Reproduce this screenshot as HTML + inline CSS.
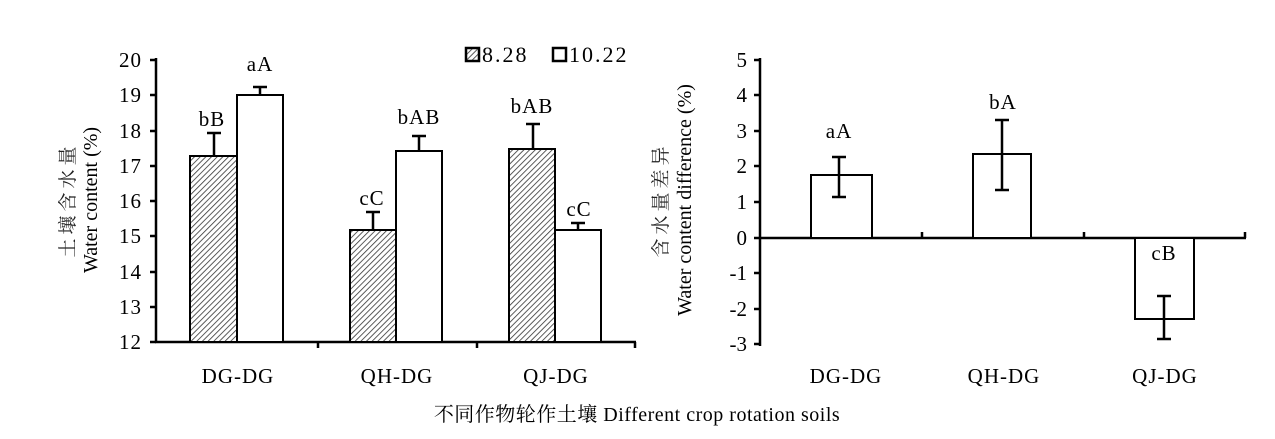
<!DOCTYPE html>
<html><head><meta charset="utf-8"><style>body{margin:0;background:#fff}</style></head><body>
<svg width="1275" height="434" viewBox="0 0 1275 434" xmlns="http://www.w3.org/2000/svg" font-family="'Liberation Serif','Noto Serif CJK SC',serif" fill="#000">
<defs><pattern id="h" width="4" height="4" patternUnits="userSpaceOnUse" patternTransform="rotate(45)"><rect width="4" height="4" fill="#fff"/><line x1="0" y1="0" x2="0" y2="4" stroke="#333" stroke-width="1.6"/></pattern></defs>
<g stroke="#000" stroke-width="2.5" fill="none">
<line x1="156" y1="58" x2="156" y2="343"/><line x1="155" y1="342" x2="636" y2="342"/>
<path d="M150 60h6M150 95h6M150 131h6M150 166h6M150 201h6M150 236h6M150 272h6M150 307h6M150 342h6"/>
<path d="M318 342v6M477 342v6M635 342v6"/>
</g>
<g stroke="#000" stroke-width="2">
<rect x="190" y="156" width="47" height="186" fill="url(#h)"/>
<rect x="237" y="95" width="46" height="247" fill="#fff"/>
<rect x="350" y="230" width="46" height="112" fill="url(#h)"/>
<rect x="396" y="151" width="46" height="191" fill="#fff"/>
<rect x="509" y="149" width="46" height="193" fill="url(#h)"/>
<rect x="555" y="230" width="46" height="112" fill="#fff"/>
<path d="M214 156V133M207 133h14M260 95V87M253 87h14M373 230V212M366 212h14M419 151V136M412 136h14M533 149V124M526 124h14M578 230V223M571 223h14" stroke-width="2.5"/>
</g>
<g font-size="21" text-anchor="end" letter-spacing="1">
<text x="142" y="67">20</text><text x="142" y="102">19</text><text x="142" y="138">18</text><text x="142" y="173">17</text><text x="142" y="208">16</text><text x="142" y="243">15</text><text x="142" y="279">14</text><text x="142" y="314">13</text><text x="142" y="349">12</text>
</g>
<g font-size="21" text-anchor="middle" letter-spacing="1">
<text x="212" y="126">bB</text><text x="260" y="71">aA</text><text x="372" y="205">cC</text><text x="419" y="124">bAB</text><text x="532" y="113">bAB</text><text x="579" y="216">cC</text>
<text x="238" y="383">DG-DG</text><text x="397" y="383">QH-DG</text><text x="556" y="383">QJ-DG</text>
</g>
<rect x="466" y="48" width="13" height="13" fill="url(#h)" stroke="#000" stroke-width="2.5"/>
<text x="482" y="62" font-size="22" letter-spacing="2">8.28</text>
<rect x="553" y="48" width="13" height="13" fill="#fff" stroke="#000" stroke-width="2.5"/>
<text x="569" y="62" font-size="22" letter-spacing="2">10.22</text>
<text transform="translate(74,200) rotate(-90)" font-size="19" text-anchor="middle" fill="#222" letter-spacing="4">土壤含水量</text>
<text transform="translate(97,200) rotate(-90)" font-size="20" text-anchor="middle">Water content (%)</text>
<g stroke="#000" stroke-width="2.5" fill="none">
<line x1="760" y1="58" x2="760" y2="346"/><line x1="759" y1="238" x2="1246" y2="238"/>
<path d="M754 60h6M754 95h6M754 131h6M754 166h6M754 202h6M754 238h6M754 273h6M754 309h6M754 344h6"/>
<path d="M922 232v6M1084 232v6M1245 232v6"/>
</g>
<g stroke="#000" stroke-width="2">
<rect x="811" y="175" width="61" height="63" fill="#fff"/>
<rect x="973" y="154" width="58" height="84" fill="#fff"/>
<rect x="1135" y="238" width="59" height="81" fill="#fff"/>
<path d="M839 197V157M832 157h14M832 197h14M1002 190V120M995 120h14M995 190h14M1164 296V339M1157 296h14M1157 339h14" stroke-width="2.5"/>
</g>
<g font-size="21" text-anchor="end">
<text x="747" y="67">5</text><text x="747" y="102">4</text><text x="747" y="138">3</text><text x="747" y="173">2</text><text x="747" y="209">1</text><text x="747" y="245">0</text><text x="747" y="280">-1</text><text x="747" y="316">-2</text><text x="747" y="351">-3</text>
</g>
<g font-size="21" text-anchor="middle" letter-spacing="1">
<text x="839" y="138">aA</text><text x="1003" y="109">bA</text><text x="1164" y="260">cB</text>
<text x="846" y="383">DG-DG</text><text x="1004" y="383">QH-DG</text><text x="1165" y="383">QJ-DG</text>
</g>
<text transform="translate(667,200) rotate(-90)" font-size="19" text-anchor="middle" fill="#222" letter-spacing="4">含水量差异</text>
<text transform="translate(691,200) rotate(-90)" font-size="20" text-anchor="middle">Water content difference (%)</text>
<text x="637" y="421" font-size="20" text-anchor="middle" letter-spacing="0.5">不同作物轮作土壤 Different crop rotation soils</text>
</svg>
</body></html>
